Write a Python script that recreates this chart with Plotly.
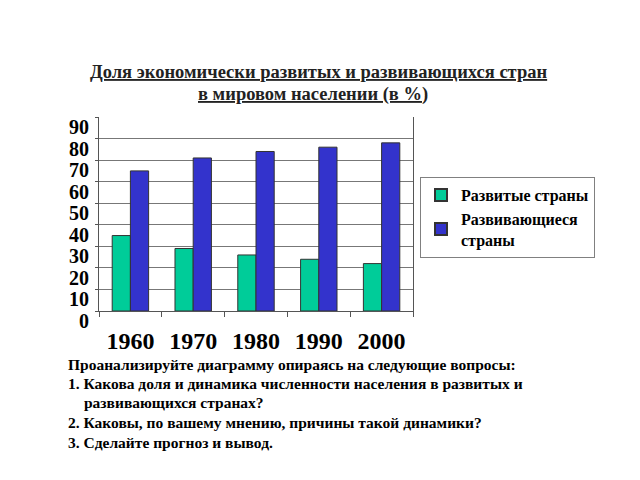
import plotly.graph_objects as go

years = ["1960", "1970", "1980", "1990", "2000"]
developed = [35, 29, 26, 24, 22]
developing = [65, 71, 74, 76, 78]
series_names = ["<b>Развитые страны</b>", "<b>Развивающиеся<br>страны</b>"]
y_ticks = [0, 10, 20, 30, 40, 50, 60, 70, 80, 90]
y_labels = ["<b>%d</b>" % v for v in y_ticks]
x_labels = ["<b>%s</b>" % y for y in years]

title_lines = [
    ("<b><u>Доля экономически развитых и развивающихся стран</u></b>", 318, 72),
    ("<b><u>в мировом населении (в %</u>)</b>", 313, 94),
]
notes = [
    ("Проанализируйте диаграмму опираясь на следующие вопросы:", 66, 364),
    ("1. Какова доля и динамика численности населения в развитых и", 66, 383),
    ("развивающихся странах?", 82, 402),
    ("2. Каковы, по вашему мнению, причины такой динамики?", 66, 422),
    ("3. Сделайте прогноз и вывод.", 66, 442),
]

L, R, T, B = 99, 413, 117, 311
W, H = 640, 480

fig = go.Figure()
fig.add_trace(go.Bar(x=years, y=developed, name=series_names[0],
                     marker=dict(color="#00CC99", line=dict(color="#333333", width=1))))
fig.add_trace(go.Bar(x=years, y=developing, name=series_names[1],
                     marker=dict(color="#3333CC", line=dict(color="#333333", width=1))))

annotations = []
for txt, px, py in title_lines:
    annotations.append(dict(
        text=txt, xref="paper", yref="paper",
        x=(px - L) / (R - L), y=(B - py) / (B - T),
        xanchor="center", yanchor="middle", showarrow=False,
        font=dict(family="Liberation Serif", size=18.5, color="#222222")))
for txt, px, py in notes:
    annotations.append(dict(
        text="<b>" + txt + "</b>", xref="paper", yref="paper",
        x=(px - L) / (R - L), y=(B - py) / (B - T),
        xanchor="left", yanchor="middle", showarrow=False,
        font=dict(family="Liberation Serif", size=15.5, color="black")))

fig.update_layout(
    width=W, height=H,
    margin=dict(l=L, r=W - R, t=T, b=H - B),
    paper_bgcolor="white", plot_bgcolor="white",
    barmode="group", bargap=0.42, bargroupgap=0,
    xaxis=dict(type="category", showgrid=False, ticks="outside", tickson="boundaries",
               ticklen=5, tickcolor="#555555", showline=True, linecolor="#555555",
               tickvals=years, ticktext=x_labels,
               tickfont=dict(family="Liberation Serif", size=24, color="black"),
               ticklabelstandoff=8),
    yaxis=dict(range=[0, 90], tickvals=y_ticks, ticktext=y_labels, showgrid=True,
               gridcolor="#777777", gridwidth=1, showline=True, linecolor="#555555",
               mirror=True, ticks="outside", ticklen=3, tickcolor="#555555",
               tickfont=dict(family="Liberation Serif", size=20, color="black"),
               ticklabelstandoff=2, ticklabelshift=10),
    legend=dict(x=(420 - L) / (R - L), y=(B - 177) / (B - T), xanchor="left", yanchor="top",
                bordercolor="#808080", borderwidth=1, bgcolor="white",
                font=dict(family="Liberation Serif", size=16, color="black"),
                itemsizing="constant", tracegroupgap=6),
    annotations=annotations,
    showlegend=True,
)

fig.write_html("out.html")
